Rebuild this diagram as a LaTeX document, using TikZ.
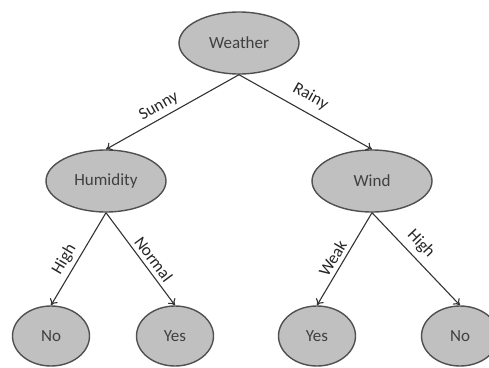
\documentclass[tikz,border=0pt]{standalone}
\usepackage{fontspec}
\setmainfont{Carlito}
\usetikzlibrary{shapes.geometric}
\usetikzlibrary{arrows.meta}

\definecolor{nodefill}{RGB}{192,192,192}
\definecolor{nodeline}{RGB}{80,80,80}
\definecolor{txt}{RGB}{64,64,64}

\tikzset{
  big/.style={ellipse, draw=nodeline, fill=nodefill, line width=1.4pt,
    minimum width=120pt, minimum height=62pt, inner sep=0pt,
    text=txt, font=\fontsize{17}{20}\selectfont},
  leaf/.style={big, minimum width=77pt, minimum height=60pt},
  branch/.style={draw=black!80, line width=1.1pt, -{To[length=6pt,width=9pt]}},
  lbl/.style={sloped, above, inner sep=4pt, text=black!85,
    font=\fontsize{17}{19}\selectfont}
}

\begin{document}
\begin{tikzpicture}[x=1pt, y=-1pt]
\useasboundingbox (0,0) rectangle (489,367);
\clip (0,0) rectangle (489,367);

\node[big] (weather) at (239,43) {Weather};
\node[big] (humid) at (106,181) {Humidity};
\node[big] (wind) at (372,181) {Wind};
\node[leaf] (no1) at (51,336) {No};
\node[leaf] (yes1) at (175,336) {Yes};
\node[leaf] (yes2) at (317,336) {Yes};
\node[leaf] (no2) at (460,336) {No};

\draw[branch] (weather.south) -- node[lbl, pos=0.56] {Sunny} (humid.north);
\draw[branch] (weather.south) -- node[lbl, pos=0.48, inner sep=8pt] {Rainy} (wind.north);
\draw[branch] (humid.south) -- node[lbl, pos=0.57] {High} (no1.north);
\draw[branch] (humid.south) -- node[lbl, pos=0.57] {Normal} (yes1.north);
\draw[branch] (wind.south) -- node[lbl, pos=0.55] {Weak} (yes2.north);
\draw[branch] (wind.south) -- node[lbl, pos=0.44, inner sep=6pt] {High} (no2.north);
\end{tikzpicture}
\end{document}
